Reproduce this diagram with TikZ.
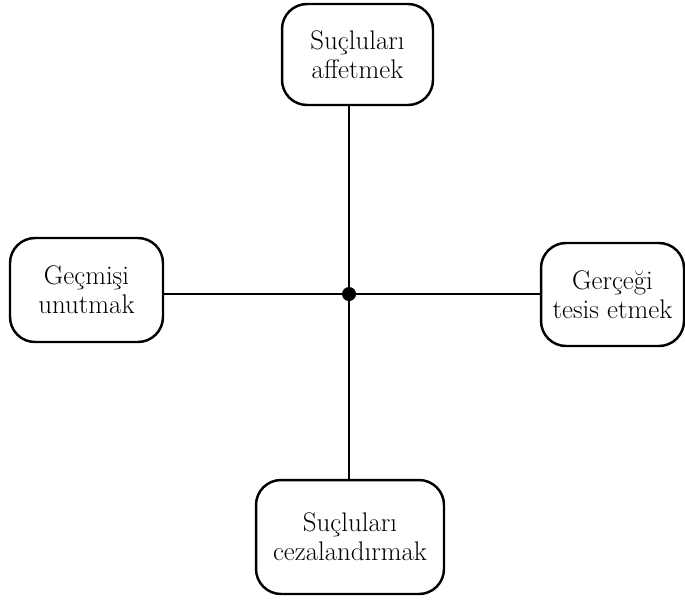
\documentclass[tikz,border=0pt]{standalone}
\usepackage{tikz}
\usetikzlibrary{positioning}
\tikzset{
  choice/.style={draw, line width=1.4pt, rounded corners=0.5cm, align=center,
    font=\fontsize{15.3}{16.5}\selectfont, inner sep=0pt},
  link/.style={line width=1.1pt}
}

\begin{document}
\begin{tikzpicture}[x=0.02cm, y=-0.02cm]
		\useasboundingbox (0,0) rectangle (685,602);
		\node[choice, minimum width=3.02cm, minimum height=2.02cm] (affet) at (357.5,54.5) {Suçluları\\affetmek};
		\node[choice, minimum width=3.06cm, minimum height=2.08cm] (unut) at (86.5,290) {Geçmişi\\unutmak};
		\node[choice, minimum width=2.86cm, minimum height=2.06cm] (gercek) at (612.5,294.5) {Gerçeği\\tesis etmek};
		\node[choice, minimum width=3.76cm, minimum height=2.28cm] (ceza) at (350,537) {Suçluları\\cezalandırmak};
		\fill (349,294) circle (0.14cm) coordinate (merkez);
		\draw[link] (merkez) -- (merkez |- affet.south);
		\draw[link] (merkez) -- (merkez |- ceza.north);
		\draw[link] (merkez) -- (merkez -| unut.east);
		\draw[link] (merkez) -- (merkez -| gercek.west);
\end{tikzpicture}
\end{document}
